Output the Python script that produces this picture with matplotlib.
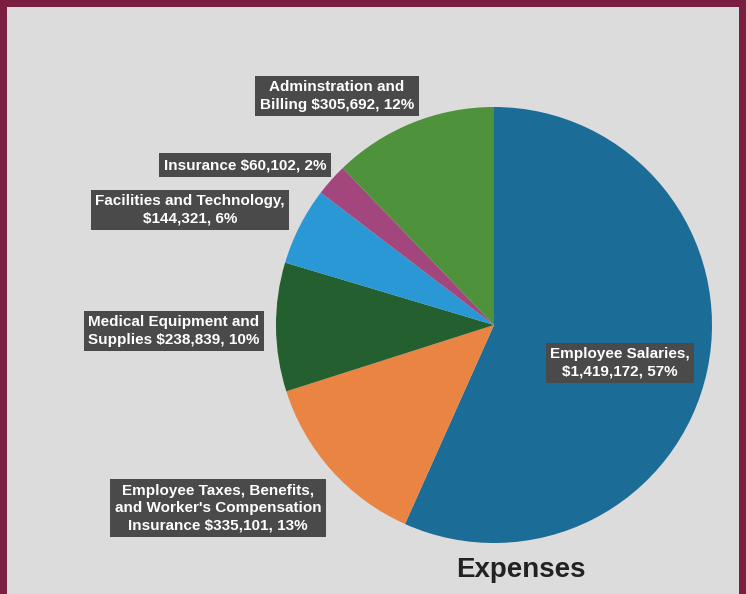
import matplotlib.pyplot as plt
from matplotlib.patches import Rectangle

plt.rcParams['font.family'] = ['Liberation Sans', 'DejaVu Sans']

# expense categories, in clockwise order from 12 o'clock
categories = ['Employee Salaries',
              "Employee Taxes, Benefits, and Worker's Compensation Insurance",
              'Medical Equipment and Supplies',
              'Facilities and Technology',
              'Insurance',
              'Adminstration and Billing']
amounts = [1419172, 335101, 238839, 144321, 60102, 305692]

# how each category name is broken in its label
label_names = ['Employee Salaries,\n',
               "Employee Taxes, Benefits,\nand Worker's Compensation\nInsurance ",
               'Medical Equipment and\nSupplies ',
               'Facilities and Technology,\n',
               'Insurance ',
               'Adminstration and\nBilling ']

colors = ['#1b6c96', '#ea8443', '#235f2f', '#2b98d6', '#a4467e', '#4f923c']
# label box centres in figure pixels (x from left, y from top)
label_pos = [(620, 363), (218, 508), (174, 331), (190, 210), (245, 165), (337, 96)]

W, H = 746, 594
fig = plt.figure(figsize=(W / 100, H / 100), dpi=100)
fig.patch.set_facecolor('#7b1f42')
fig.patches.append(Rectangle((7 / W, 0), (W - 14) / W, (H - 7) / H,
                             transform=fig.transFigure, facecolor='#dcdcdc',
                             edgecolor='none', zorder=-1))

cx, cy, r = 494, 325, 218
ax = fig.add_axes([(cx - r) / W, (H - cy - r) / H, 2 * r / W, 2 * r / H])
ax.set_zorder(1)
ax.pie(amounts, colors=colors, startangle=90, counterclock=False,
       wedgeprops=dict(linewidth=0))
ax.set_xlim(-1, 1)
ax.set_ylim(-1, 1)
ax.set_axis_off()

total = sum(amounts)
for name, amt, (px, py) in zip(label_names, amounts, label_pos):
    pct = round(amt / total * 100)
    fig.text(px / W, 1 - py / H, f'{name}${amt:,}, {pct}%',
             ha='center', va='center', multialignment='center',
             fontsize=11, fontweight='bold', color='white', linespacing=1.3,
             zorder=5,
             bbox=dict(boxstyle='square,pad=0.3', facecolor='#4a4a4a',
                       edgecolor='none'))

fig.text(521 / W, 1 - 570 / H, 'Expenses', ha='center', va='center',
         fontsize=20, fontweight='bold', color='#222222', zorder=5)

fig.savefig('out.png', dpi=100, facecolor=fig.get_facecolor())
